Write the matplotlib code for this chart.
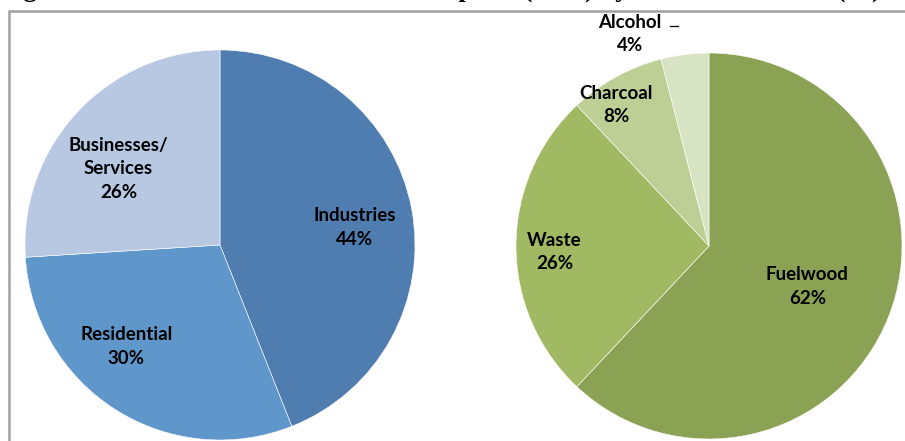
import numpy as np
import matplotlib.pyplot as plt
from matplotlib.patches import Rectangle

# sector shares (left pie) and biomass source shares (right pie)
sectors = ["Industries", "Residential", "Businesses/\nServices"]
sector_share = [44, 30, 26]
sector_colors = ["#4F7DB0", "#6097CA", "#B8C7E2"]

sources = ["Fuelwood", "Waste", "Charcoal", "Alcohol"]
source_share = [62, 26, 8, 4]
source_colors = ["#8BA255", "#A1B963", "#BDCF95", "#D8E3C3"]

# label positions in pie-radius units
sector_label_xy = [(0.69, 0.09), (-0.48, -0.52), (-0.52, 0.39)]
source_label_xy = [(0.51, -0.21), (-0.80, -0.03), (-0.48, 0.73), (-0.41, 1.10)]

title = "Figure 3: Breakdown of biomass consumption (2010) by sector and source (%)"

W, H = 905, 441
fig = plt.figure(figsize=(W / 100, H / 100), dpi=100)
fig.patch.set_facecolor("white")

# grey frame, only top and left visible
fig.patches.append(Rectangle((9 / W, -0.2), 1.2, 1.2 - 11 / H, transform=fig.transFigure,
                             fill=False, edgecolor="#A0A0A0", linewidth=1.8))

# title sits above the frame, mostly cropped away
fig.text(0.0, 1 + 3.5 / H, title, ha="left", va="baseline", fontsize=19,
         fontweight="bold", family="Liberation Serif", color="black")

font = dict(family="Lato", fontweight="bold", fontsize=13.5, color="black",
            ha="center", va="center", linespacing=1.45)


def draw_pie(rect, values, colors, labels, label_xy):
    ax = fig.add_axes(rect)
    ax.pie(values, colors=colors, startangle=90, counterclock=False,
           wedgeprops=dict(linewidth=0.4, edgecolor="white"))
    ax.set_xlim(-1, 1)
    ax.set_ylim(-1, 1)
    ax.set_aspect("equal")
    ax.axis("off")
    for lab, v, (x, y) in zip(labels, values, label_xy):
        ax.text(x, y, f"{lab}\n{v}%", clip_on=False, **font)
    return ax


draw_pie([25 / W, 1 / H, 390 / W, 390 / H], sector_share, sector_colors,
         sectors, sector_label_xy)
ax2 = draw_pie([516 / W, 2 / H, 386 / W, 386 / H], source_share, source_colors,
               sources, source_label_xy)
# small leader next to the Alcohol label
ax2.plot([-0.20, -0.16], [1.14, 1.14], color="black", linewidth=0.9, clip_on=False)

fig.savefig("out.png", dpi=100, facecolor="white")
